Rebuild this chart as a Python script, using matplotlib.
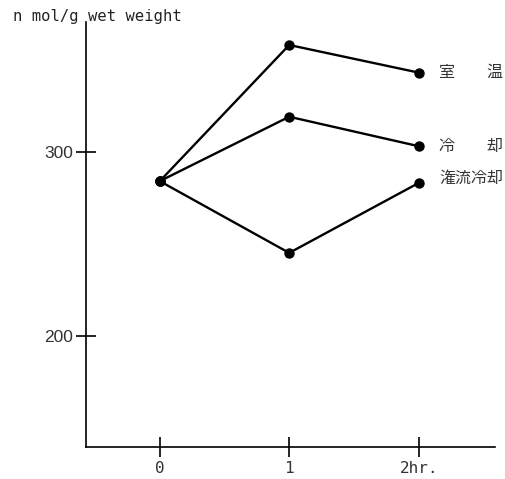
import matplotlib
matplotlib.use("Agg")
import matplotlib.pyplot as plt

hours = [0, 1, 2]
xtick_labels = ["0", "1", "2hr."]
yticks = [200, 300]
series_names = ["室\u3000\u3000温", "冷\u3000\u3000却", "潅流冷却"]
room_temp = [284, 358, 343]
cooled = [284, 319, 303]
perfused = [284, 245, 283]
ylabel = "n mol/g wet weight"

W, H = 506, 479
fig = plt.figure(figsize=(W / 100, H / 100), dpi=100)
ax = fig.add_axes([86 / W, (H - 447) / H, (495 - 86) / W, (447 - 22) / H])

label_dy = [0, 0, 5]
for vals, name, dy in zip([room_temp, cooled, perfused], series_names, label_dy):
    ax.plot(hours, vals, color="black", lw=1.7, marker="o", ms=6.5, zorder=3)
    ax.annotate(name, (hours[-1], vals[-1]), xytext=(15, dy * 0.72), textcoords="offset points",
                va="center", ha="left", fontsize=11.5,
                family=["Noto Sans CJK JP", "DejaVu Sans"], color="#333333")

ax.set_xlim(-0.57, 2.59)
ax.set_ylim(139.5, 370.5)
ax.set_xticks(hours)
ax.set_xticklabels(xtick_labels, family="DejaVu Sans Mono", fontsize=11.5, color="#333333")
ax.set_yticks(yticks)
ax.set_yticklabels([str(v) for v in yticks], family="Liberation Sans", fontsize=12.5, color="#333333")
ax.tick_params(axis="both", direction="inout", length=14, width=1.2, color="black")
ax.tick_params(axis="x", pad=3)
ax.tick_params(axis="y", pad=2)
for s in ["top", "right"]:
    ax.spines[s].set_visible(False)
for s in ["left", "bottom"]:
    ax.spines[s].set_linewidth(1.2)

fig.text(13 / W, 1 - 16 / H, ylabel, family="DejaVu Sans Mono", fontsize=11.2, va="center", ha="left",
         color="#222222")

fig.savefig("out.png", dpi=100)
